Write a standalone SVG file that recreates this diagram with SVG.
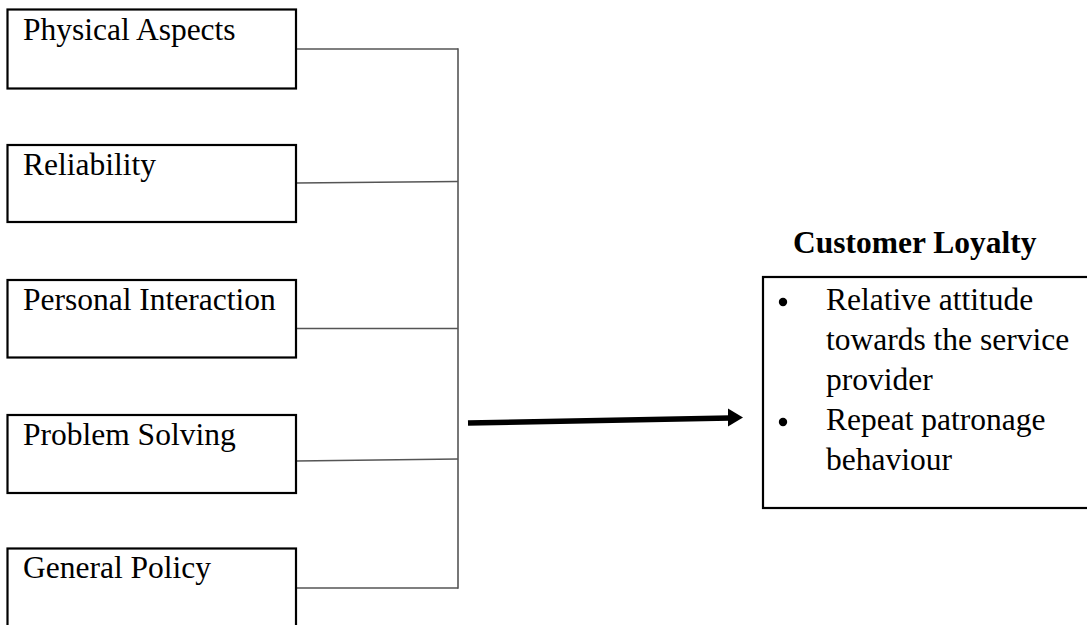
<svg xmlns="http://www.w3.org/2000/svg" width="1087" height="625" viewBox="0 0 1087 625">
<defs>
<style>
.box{fill:#fff;stroke:#000;stroke-width:2.2}
.t{font-family:"Liberation Serif","Times New Roman",serif;font-size:31.5px;fill:#000}
.b{font-weight:bold}
.c{fill:none;stroke:#555;stroke-width:1.6}
</style>
</defs>
<rect width="1087" height="625" fill="#fff"/>
<g id="connectors">
<line class="c" x1="296" y1="49" x2="458" y2="49"/>
<line class="c" x1="296" y1="183" x2="458" y2="181.5"/>
<line class="c" x1="296" y1="328.5" x2="458" y2="328.5"/>
<line class="c" x1="296" y1="461" x2="458" y2="459"/>
<line class="c" x1="296" y1="588" x2="458" y2="588"/>
<line class="c" x1="458" y1="48.2" x2="458" y2="588.8"/>
<line x1="468" y1="423" x2="730" y2="418" stroke="#000" stroke-width="5.5"/>
<polygon points="728,408.5 743,417.5 728,426.5" fill="#000"/>
</g>
<g id="physical-aspects">
<rect class="box" x="7.5" y="9.5" width="288.5" height="79"/>
<text class="t" x="23" y="40">Physical Aspects</text>
</g>
<g id="reliability">
<rect class="box" x="7.5" y="145" width="288.5" height="77"/>
<text class="t" x="23" y="175">Reliability</text>
</g>
<g id="personal-interaction">
<rect class="box" x="7.5" y="280" width="288.5" height="77.5"/>
<text class="t" x="23" y="309.5">Personal Interaction</text>
</g>
<g id="problem-solving">
<rect class="box" x="7.5" y="415" width="288.5" height="78"/>
<text class="t" x="23" y="445">Problem Solving</text>
</g>
<g id="general-policy">
<rect class="box" x="7.5" y="548.5" width="288.5" height="90"/>
<text class="t" x="23" y="578">General Policy</text>
</g>
<g id="customer-loyalty">
<text class="t b" x="793" y="253">Customer Loyalty</text>
<rect class="box" x="763" y="277" width="340" height="231"/>
<circle cx="783" cy="302" r="4.2" fill="#000"/>
<text class="t" x="826" y="310">Relative attitude</text>
<text class="t" x="826" y="350">towards the service</text>
<text class="t" x="826" y="390">provider</text>
<circle cx="783" cy="422" r="4.2" fill="#000"/>
<text class="t" x="826" y="430">Repeat patronage</text>
<text class="t" x="826" y="470">behaviour</text>
</g>
</svg>
